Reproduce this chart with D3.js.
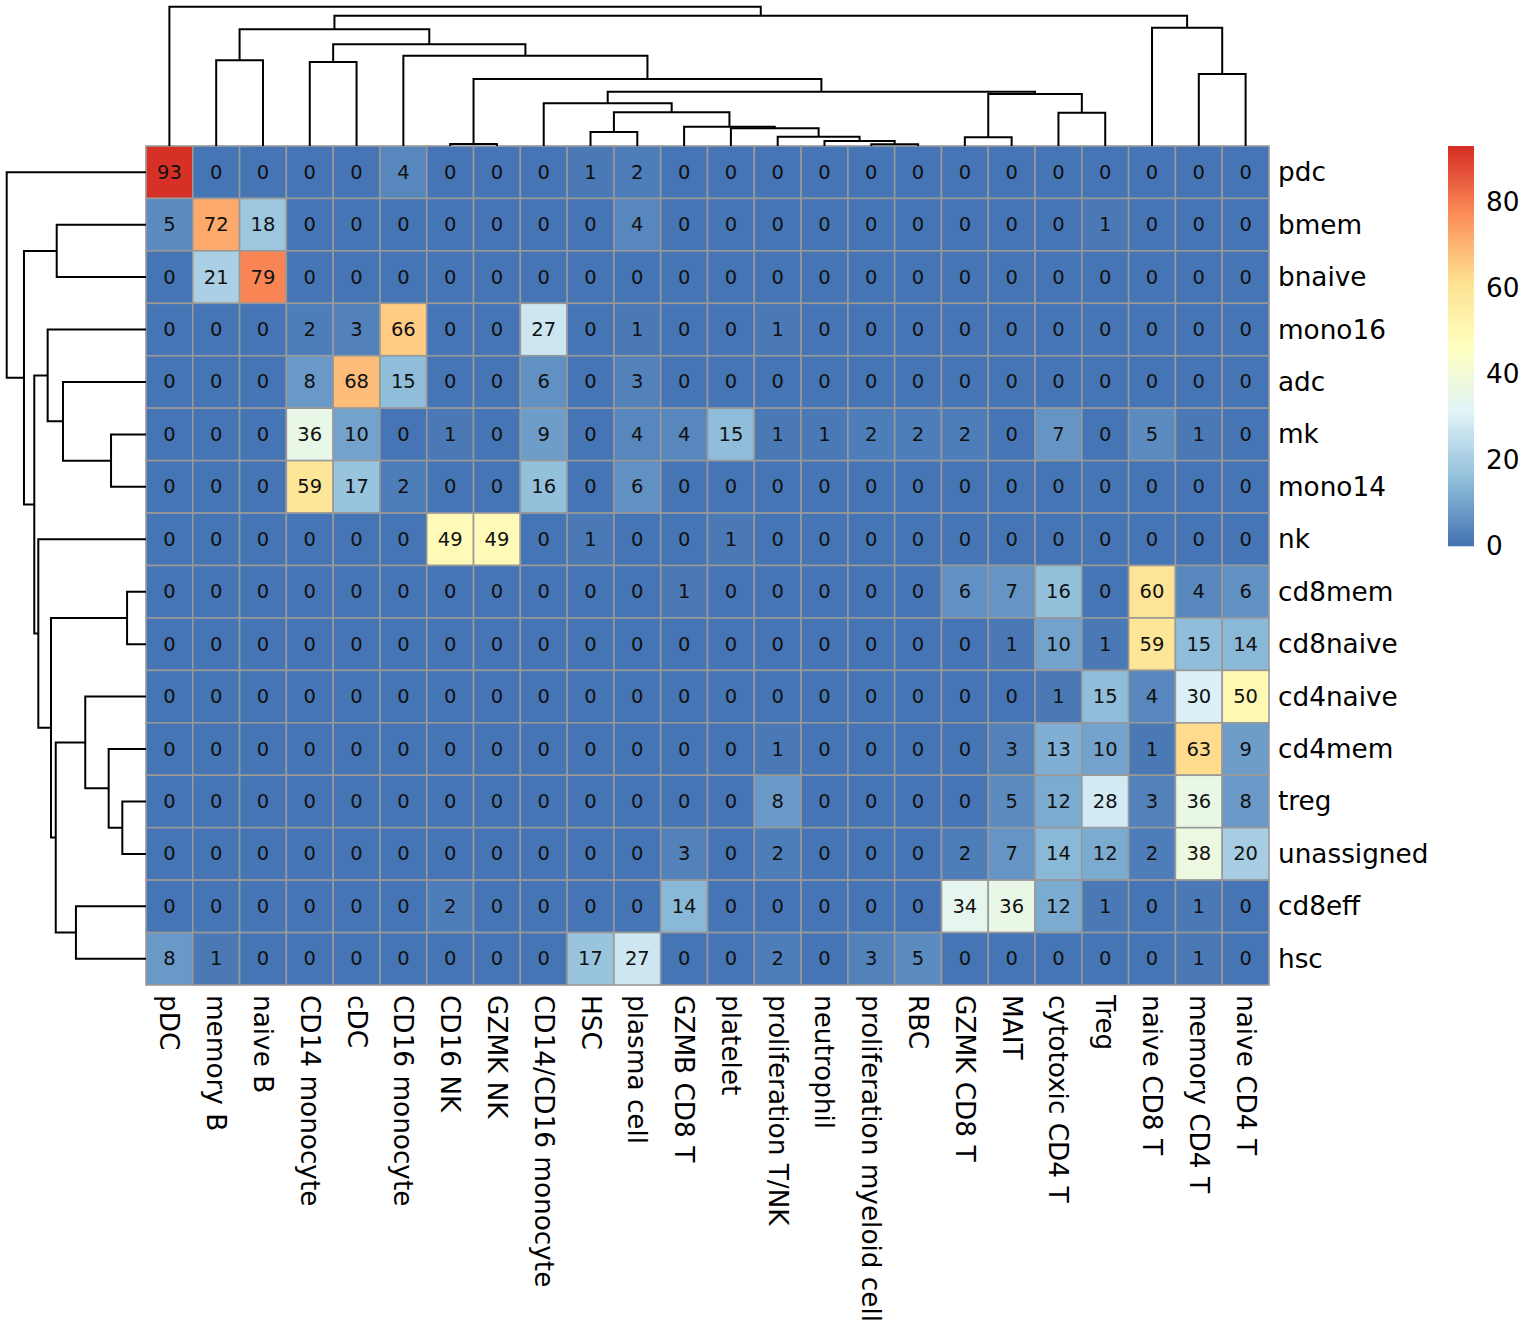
<!DOCTYPE html>
<html>
<head>
<meta charset="utf-8">
<script src="https://cdn.jsdelivr.net/npm/d3@7"></script>
<style>
  html, body { margin: 0; padding: 0; background: #fff; }
  svg { display: block; }
  text { font-family: "DejaVu Sans", sans-serif; }
</style>
</head>
<body>
<svg id="chart" width="1536" height="1344"></svg>
<script>
// ---------------- data ----------------
const rowLabels = ["pdc","bmem","bnaive","mono16","adc","mk","mono14","nk","cd8mem","cd8naive","cd4naive","cd4mem","treg","unassigned","cd8eff","hsc"];
const colLabels = ["pDC","memory B","naive B","CD14 monocyte","cDC","CD16 monocyte","CD16 NK","GZMK NK","CD14/CD16 monocyte","HSC","plasma cell","GZMB CD8 T","platelet","proliferation T/NK","neutrophil","proliferation myeloid cell","RBC","GZMK CD8 T","MAIT","cytotoxic CD4 T","Treg","naive CD8 T","memory CD4 T","naive CD4 T"];

const row_pdc        = [93,0,0,0,0,4,0,0,0,1,2,0,0,0,0,0,0,0,0,0,0,0,0,0];
const row_bmem       = [5,72,18,0,0,0,0,0,0,0,4,0,0,0,0,0,0,0,0,0,1,0,0,0];
const row_bnaive     = [0,21,79,0,0,0,0,0,0,0,0,0,0,0,0,0,0,0,0,0,0,0,0,0];
const row_mono16     = [0,0,0,2,3,66,0,0,27,0,1,0,0,1,0,0,0,0,0,0,0,0,0,0];
const row_adc        = [0,0,0,8,68,15,0,0,6,0,3,0,0,0,0,0,0,0,0,0,0,0,0,0];
const row_mk         = [0,0,0,36,10,0,1,0,9,0,4,4,15,1,1,2,2,2,0,7,0,5,1,0];
const row_mono14     = [0,0,0,59,17,2,0,0,16,0,6,0,0,0,0,0,0,0,0,0,0,0,0,0];
const row_nk         = [0,0,0,0,0,0,49,49,0,1,0,0,1,0,0,0,0,0,0,0,0,0,0,0];
const row_cd8mem     = [0,0,0,0,0,0,0,0,0,0,0,1,0,0,0,0,0,6,7,16,0,60,4,6];
const row_cd8naive   = [0,0,0,0,0,0,0,0,0,0,0,0,0,0,0,0,0,0,1,10,1,59,15,14];
const row_cd4naive   = [0,0,0,0,0,0,0,0,0,0,0,0,0,0,0,0,0,0,0,1,15,4,30,50];
const row_cd4mem     = [0,0,0,0,0,0,0,0,0,0,0,0,0,1,0,0,0,0,3,13,10,1,63,9];
const row_treg       = [0,0,0,0,0,0,0,0,0,0,0,0,0,8,0,0,0,0,5,12,28,3,36,8];
const row_unassigned = [0,0,0,0,0,0,0,0,0,0,0,3,0,2,0,0,0,2,7,14,12,2,38,20];
const row_cd8eff     = [0,0,0,0,0,0,2,0,0,0,0,14,0,0,0,0,0,34,36,12,1,0,1,0];
const row_hsc        = [8,1,0,0,0,0,0,0,0,17,27,0,0,2,0,3,5,0,0,0,0,0,1,0];
const values = [row_pdc,row_bmem,row_bnaive,row_mono16,row_adc,row_mk,row_mono14,row_nk,
                row_cd8mem,row_cd8naive,row_cd4naive,row_cd4mem,row_treg,row_unassigned,row_cd8eff,row_hsc];

// dendrograms: [relative merge height, left, right]; leaves are labels
const colTree = [1.000, "pDC",
  [0.935,
    [0.838,
      [0.615, "memory B", "naive B"],
      [0.730,
        [0.603, "CD14 monocyte", "cDC"],
        [0.648, "CD16 monocyte",
          [0.481,
            [0.014, "CD16 NK", "GZMK NK"],
            [0.390,
              [0.307, "CD14/CD16 monocyte",
                [0.242,
                  [0.101, "HSC", "plasma cell"],
                  [0.139, "GZMB CD8 T",
                    [0.127, "platelet",
                      [0.067, "proliferation T/NK",
                        [0.036, "neutrophil",
                          [0.012, "proliferation myeloid cell", "RBC"]]]]]]],
              [0.373,
                [0.062, "GZMK CD8 T", "MAIT"],
                [0.239, "cytotoxic CD4 T", "Treg"]]]]]]],
    [0.849, "naive CD8 T", [0.517, "memory CD4 T", "naive CD4 T"]]]];

const rowTree = [1.000, "pdc",
  [0.876,
    [0.641, "bmem", "bnaive"],
    [0.802,
      [0.706, "mono16", [0.596, "adc", [0.251, "mk", "mono14"]]],
      [0.773, "nk",
        [0.682,
          [0.136, "cd8mem", "cd8naive"],
          [0.648,
            [0.436, "cd4naive", [0.268, "cd4mem", [0.170, "treg", "unassigned"]]],
            [0.503, "cd8eff", "hsc"]]]]]]];

const valueMax = 93;
const legendTicks = [0, 20, 40, 60, 80];
const paletteStops = ["#4575B4","#91BFDB","#E0F3F8","#FFFFBF","#FEE090","#FC8D59","#D73027"];
const nColors = 100;

// ---------------- layout ----------------
const L = 146, R = 1269, T = 146, B = 985;
const treeTop = 6.7;
const labelSize = 26.3, numberSize = 19.5;
const svg = d3.select("#chart");
svg.append("rect").attr("width",1536).attr("height",1344).attr("fill","#fff");

const x = d3.scaleBand().domain(colLabels).range([L, R]);
const y = d3.scaleBand().domain(rowLabels).range([T, B]);

const ramp = d3.scaleLinear().domain(paletteStops.map((_, i) => i / (paletteStops.length - 1)))
  .range(paletteStops).interpolate(d3.interpolateRgb);
const palette = d3.range(nColors).map(i => ramp(i / (nColors - 1)));
const bin = d3.scaleLinear().domain([0, valueMax]).range([0, nColors]);
function colorOf(v) {
  const k = v <= 0 ? 0 : Math.min(nColors - 1, Math.ceil(bin(v)) - 1);
  return palette[k];
}

// cells
const cells = [];
values.forEach((row, i) => row.forEach((v, j) => cells.push({r: rowLabels[i], c: colLabels[j], v})));
const g = svg.append("g");
g.selectAll("rect.cell").data(cells).join("rect")
  .attr("class","cell")
  .attr("x", d => x(d.c)).attr("y", d => y(d.r))
  .attr("width", x.bandwidth()).attr("height", y.bandwidth())
  .attr("fill", d => colorOf(d.v))
  .attr("stroke", "#999999").attr("stroke-width", 1.6);

g.selectAll("text.num").data(cells).join("text")
  .attr("class","num")
  .attr("x", d => x(d.c) + x.bandwidth() / 2)
  .attr("y", d => y(d.r) + y.bandwidth() / 2)
  .attr("text-anchor","middle").attr("dominant-baseline","central")
  .attr("font-size", numberSize).attr("fill","#111")
  .text(d => d.v);

// row labels
svg.selectAll("text.rowlab").data(rowLabels).join("text")
  .attr("class","rowlab")
  .attr("x", R + 9).attr("y", d => y(d) + y.bandwidth() / 2)
  .attr("dominant-baseline","central").attr("font-size", labelSize).attr("fill","#000")
  .text(d => d);

// column labels
svg.selectAll("text.collab").data(colLabels).join("text")
  .attr("class","collab")
  .attr("transform", d => `translate(${x(d) + x.bandwidth() / 2},${B + 10}) rotate(90)`)
  .attr("dominant-baseline","central").attr("font-size", labelSize).attr("fill","#000")
  .text(d => d);

// dendrograms
function layoutTree(node, pos) {
  if (typeof node === "string") return {p: pos(node), h: 0, segs: []};
  const [h, a, b] = node;
  const A = layoutTree(a, pos), Bn = layoutTree(b, pos);
  const segs = A.segs.concat(Bn.segs);
  segs.push({p1: A.p, h1: A.h, p2: Bn.p, h2: Bn.h, h});
  return {p: (A.p + Bn.p) / 2, h, segs};
}
const colH = d3.scaleLinear().domain([0, 1]).range([T, treeTop]);
const rowH = d3.scaleLinear().domain([0, 1]).range([L, treeTop]);

const colSegs = layoutTree(colTree, d => x(d) + x.bandwidth() / 2).segs;
svg.append("g").selectAll("path").data(colSegs).join("path")
  .attr("d", s => `M${s.p1},${colH(s.h1)}V${colH(s.h)}H${s.p2}V${colH(s.h2)}`)
  .attr("fill","none").attr("stroke","#000").attr("stroke-width", 2);

const rowSegs = layoutTree(rowTree, d => y(d) + y.bandwidth() / 2).segs;
svg.append("g").selectAll("path").data(rowSegs).join("path")
  .attr("d", s => `M${rowH(s.h1)},${s.p1}H${rowH(s.h)}V${s.p2}H${rowH(s.h2)}`)
  .attr("fill","none").attr("stroke","#000").attr("stroke-width", 2);

// legend
const LX = 1448, LW = 26, LT = 146, LB = 546;
const ly = d3.scaleLinear().domain([0, valueMax]).range([LB, LT]);
const steps = d3.range(nColors).map(i => ({lo: i * valueMax / nColors, hi: (i + 1) * valueMax / nColors, c: palette[i]}));
svg.append("g").selectAll("rect").data(steps).join("rect")
  .attr("x", LX).attr("width", LW)
  .attr("y", d => ly(d.hi)).attr("height", d => ly(d.lo) - ly(d.hi) + 0.3)
  .attr("fill", d => d.c);
svg.append("g").selectAll("text").data(legendTicks).join("text")
  .attr("x", LX + LW + 12).attr("y", d => ly(d))
  .attr("dominant-baseline","central").attr("font-size", labelSize).attr("fill","#000")
  .text(d => d);
</script>
</body>
</html>
